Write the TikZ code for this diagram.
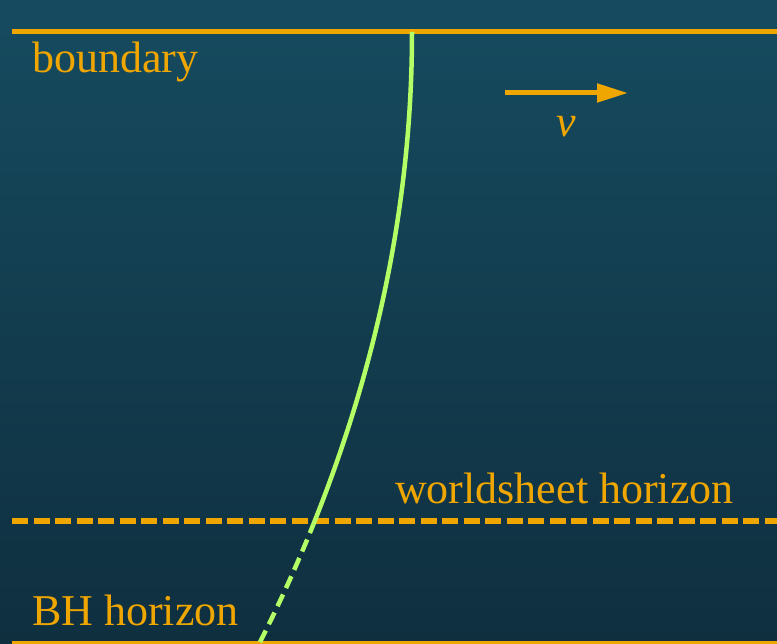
\documentclass[tikz,border=0pt]{standalone}
\usepackage{fontspec}
\setmainfont{Liberation Serif}
\usetikzlibrary{arrows.meta}
\definecolor{bgtop}{RGB}{22,75,95}
\definecolor{bgbot}{RGB}{15,47,63}
\definecolor{orng}{RGB}{240,166,0}
\definecolor{lgreen}{RGB}{180,255,102}
\tikzset{
  hline/.style={draw=orng, line width=5pt},
  lbl/.style={text=orng, inner sep=0pt, anchor=base west, font=\rmfamily\fontsize{44}{50}\selectfont},
  string/.style={draw=lgreen, line width=4.5pt},
}
\begin{document}
\begin{tikzpicture}[x=1pt,y=-1pt]
\shade[top color=bgtop, bottom color=bgbot] (0,0) rectangle (777,644);
\useasboundingbox (0,0) rectangle (777,644);
% boundary lines
\coordinate (bl) at (12,32); \coordinate (br) at (777,32);
\coordinate (wl) at (12,521); \coordinate (wr) at (777,521);
\coordinate (hl) at (12,643); \coordinate (hr) at (777,643);
\draw[hline] (bl) -- (br);
\draw[hline, line width=5.5pt, dash pattern=on 16pt off 5.5pt] (wl) -- (wr);
\draw[hline] (hl) -- (hr);
% labels
\node[lbl] (tb) at (32,73) {boundary};
\node[lbl] (tw) at (395,503) {worldsheet horizon};
\node[lbl] (th) at (32,625) {BH horizon};
% velocity arrow
\coordinate (va) at (505,93); \coordinate (vb) at (628,93);
\draw[orng, line width=5pt, -{Triangle[length=31pt,width=18pt]}] (va) -- (vb);
\node[lbl, anchor=base, font=\rmfamily\itshape\fontsize{44}{50}\selectfont] (v) at (566,137) {v};
% string
\coordinate (s0) at (412,32);
\coordinate (s1) at (314.7,521);
\coordinate (s2) at (259,644);
\draw[string] (s0) .. controls (412,195) and (379.6,358) .. (s1);
\draw[string, dash pattern=on 13pt off 7pt] (s1) .. controls (298.4,562) and (279.8,603) .. (s2);
\end{tikzpicture}
\end{document}
